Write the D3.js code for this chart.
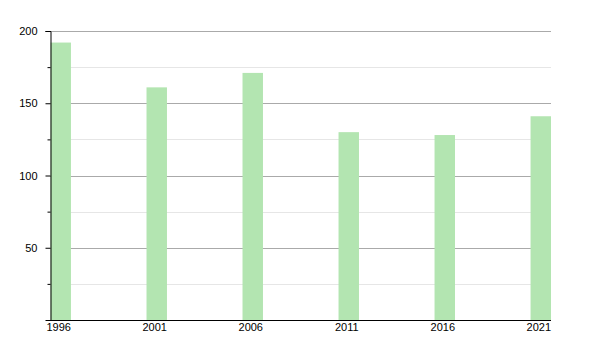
<!DOCTYPE html>
<html>
<head>
<meta charset="utf-8">
<script src="https://cdn.jsdelivr.net/npm/d3@7"></script>
<style>
body { margin: 0; background: #fff; }
text { font-family: "Liberation Sans", Arial, sans-serif; font-size: 11px; fill: #000; }
</style>
</head>
<body>
<script>
// data
var years = ["1996", "2001", "2006", "2011", "2016", "2021"];
var values = [192, 161, 171, 130, 128, 141];
var majorTicks = [50, 100, 150, 200];
var minorTicks = [25, 75, 125, 175];

var svg = d3.select("body").append("svg")
        .attr("width", 600)
        .attr("height", 350);

var x = d3.scaleBand()
        .domain(years)
        .range([50.5, 551])
        .paddingInner(0.787)
        .paddingOuter(0);

var y = d3.scaleLinear()
        .domain([0, 200])
        .range([320, 31]);

// gridlines
svg.selectAll("line.minor")
        .data(minorTicks)
        .enter().append("line")
        .attr("x1", 50).attr("x2", 551)
        .attr("y1", d => Math.round(y(d)) + 0.5)
        .attr("y2", d => Math.round(y(d)) + 0.5)
        .attr("stroke", "#e6e6e6");

svg.selectAll("line.major")
        .data(majorTicks)
        .enter().append("line")
        .attr("x1", 50).attr("x2", 551)
        .attr("y1", d => Math.round(y(d)) + 0.5)
        .attr("y2", d => Math.round(y(d)) + 0.5)
        .attr("stroke", "#aaaaaa");

// bars
svg.selectAll("rect")
        .data(values)
        .enter().append("rect")
        .attr("x", (d, i) => x(years[i]))
        .attr("y", d => y(d))
        .attr("width", x.bandwidth())
        .attr("height", d => y(0) - y(d))
        .attr("fill", "#b3e5b1");

// y axis
var yAxis = svg.append("g")
        .attr("transform", "translate(50.5,0)")
        .call(d3.axisLeft(y).tickValues(majorTicks).tickSize(5).tickPadding(8));
yAxis.select(".domain").attr("stroke", "#000");
yAxis.selectAll("text").style("font-family", "Liberation Sans, Arial, sans-serif").style("font-size", "11px");

svg.append("g")
        .attr("transform", "translate(50.5,0)")
        .call(d3.axisLeft(y).tickValues(minorTicks).tickSize(3).tickFormat(""))
        .select(".domain").remove();

// x axis
var xAxis = svg.append("g")
        .attr("transform", "translate(0,320.5)")
        .call(d3.axisBottom(x).tickSize(0).tickPadding(3).tickSizeOuter(0));
xAxis.select(".domain").attr("stroke", "#000").attr("d", "M50.5,0H551");
xAxis.selectAll("text")
        .attr("dx", -2)
        .style("font-family", "Liberation Sans, Arial, sans-serif").style("font-size", "11px");
</script>
</body>
</html>
